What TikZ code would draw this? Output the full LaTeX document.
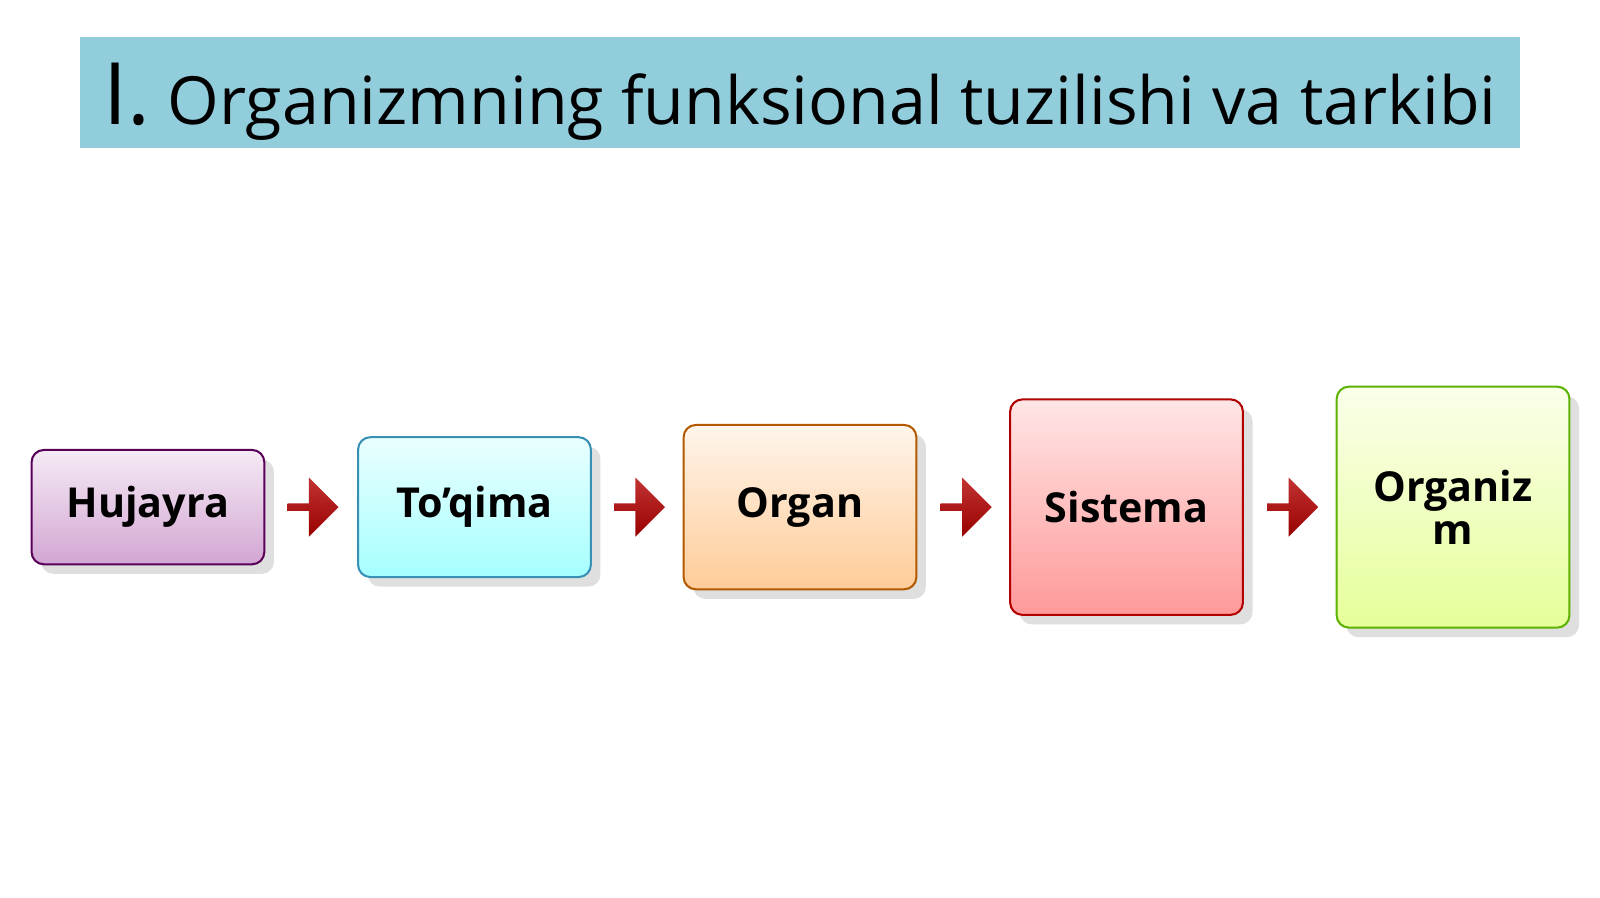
\documentclass[tikz,border=0pt]{standalone}
\usepackage{fontspec}
\setmainfont{Open Sans}
\usetikzlibrary{shapes.arrows}
\definecolor{banner}{RGB}{146,205,220}
\tikzset{
  step box/.style={draw=#1!70!black, line width=0.02cm, rounded corners=0.12cm,
    minimum width=2.28cm, align=center, font=\fontsize{11.5}{12}\selectfont\bfseries,
    drop shadow={opacity=0.25}},
  step arrow/.style={single arrow, draw=none, minimum height=0.5cm, minimum width=0.58cm,
    single arrow head extend=0.05cm, top color=red!70!black!80, bottom color=red!60!black, inner sep=0pt}
}
\usetikzlibrary{shadows}
\begin{document}
\begin{tikzpicture}[x=0.01cm,y=-0.01cm]
	\useasboundingbox[fill=white] (0,0) rectangle (1568,880);
	\fill[banner] (78,36) rectangle (1490,145);
	\node[font=\fontsize{18.5}{20}\selectfont] (title) at (784,100) {{\fontsize{24}{24}\selectfont I.} Organizmning funksional tuzilishi va tarkibi};
	\node[step box=violet, minimum height=1.12cm, top color=violet!8, bottom color=violet!35] (hujayra) at (145,497) {Hujayra};
	\node[step box=cyan, minimum height=1.37cm, top color=cyan!8, bottom color=cyan!35] (toqima) at (465,497) {To’qima};
	\node[step box=orange, minimum height=1.61cm, top color=orange!8, bottom color=orange!40] (organ) at (784,497) {Organ};
	\node[step box=red, minimum height=2.11cm, top color=red!10, bottom color=red!40] (sistema) at (1104,497) {Sistema};
	\node[step box=lime!70!green, minimum height=2.36cm, top color=lime!8, bottom color=lime!40] (organizm) at (1424,497) {Organiz\\m};
	\node[step arrow] (a1) at (305,497) {};
	\node[step arrow] (a2) at (625,497) {};
	\node[step arrow] (a3) at (945,497) {};
	\node[step arrow] (a4) at (1265,497) {};
\end{tikzpicture}
\end{document}
